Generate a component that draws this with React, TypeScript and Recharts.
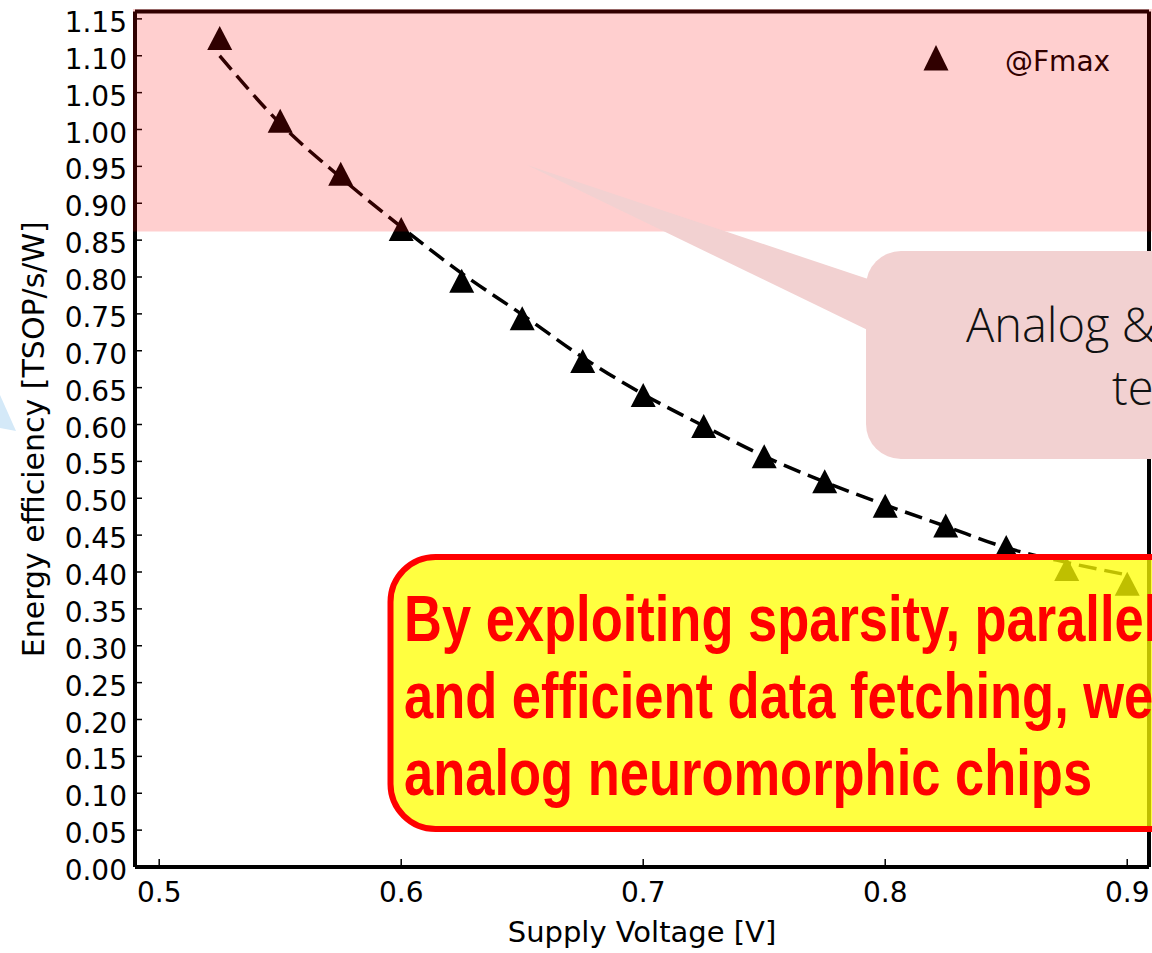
import React from "react"
import { ComposedChart, Line, XAxis, YAxis, Legend } from "recharts"

const voltage = [0.525, 0.55, 0.575, 0.6, 0.625, 0.65, 0.675, 0.7, 0.725, 0.75, 0.775, 0.8, 0.825, 0.85, 0.875, 0.9]
const efficiency = [1.124, 1.012, 0.94, 0.865, 0.795, 0.744, 0.686, 0.64, 0.598, 0.557, 0.523, 0.49, 0.463, 0.434, 0.404, 0.384]
// dashed trend line
const fitEfficiency = [1.1, 1.008, 0.935, 0.868, 0.805, 0.749, 0.691, 0.641, 0.598, 0.557, 0.522, 0.491, 0.462, 0.433, 0.413, 0.396]

const xTicks = [0.5, 0.6, 0.7, 0.8, 0.9]
const yTicks = [0, 0.05, 0.1, 0.15, 0.2, 0.25, 0.3, 0.35, 0.4, 0.45, 0.5, 0.55, 0.6, 0.65, 0.7, 0.75, 0.8, 0.85, 0.9, 0.95, 1.0, 1.05, 1.1, 1.15]
const xDomain = [0.49, 0.909]
const yDomain = [0, 1.16]

const seriesName = "@Fmax"
const xLabel = "Supply Voltage [V]"
const yLabel = "Energy efficiency [TSOP/s/W]"
const calloutLines = ["Analog &", "te"]
const noteLines = [
  "By exploiting sparsity, parallel",
  "and efficient data fetching, we",
  "analog neuromorphic chips",
]

const data = voltage.map((v, i) => ({ v, eff: efficiency[i], fit: fitEfficiency[i] }))

const AXIS_FONT = "'DejaVu Sans', sans-serif"

function XTick({ x, y, payload }: any) {
  return (
    <text x={x} y={y} dy={20.5} textAnchor="middle" fontFamily={AXIS_FONT} fontSize={28} fill="#000">
      {Number(payload.value).toFixed(1)}
    </text>
  )
}

function YTick({ x, y, payload }: any) {
  return (
    <text x={x} y={y} dy={13} textAnchor="end" fontFamily={AXIS_FONT} fontSize={28} fill="#000">
      {Number(payload.value).toFixed(2)}
    </text>
  )
}

function triangle(props: any) {
  const { cx, cy, index } = props
  if (cx == null || cy == null) return <g key={index} />
  return (
    <polygon
      key={index}
      points={`${cx},${cy - 12} ${cx - 12.5},${cy + 12} ${cx + 12.5},${cy + 12}`}
      fill="#000"
    />
  )
}

function LegendBox(props: any) {
  const items = (props.payload || []).filter((p: any) => p.type !== "none")
  return (
    <div style={{ position: "relative", width: 220, height: 40 }}>
      {items.map((it: any) => (
        <React.Fragment key={it.value}>
          <svg width={26} height={26} style={{ position: "absolute", left: 0, top: 0 }}>
            <polygon points="13,0 0.5,25.5 25.5,25.5" fill="#000" />
          </svg>
          <span
            style={{
              position: "absolute",
              left: 82,
              top: 3,
              fontFamily: AXIS_FONT,
              fontSize: 28,
              lineHeight: "28px",
              color: "#000",
              whiteSpace: "nowrap",
            }}
          >
            {it.value}
          </span>
        </React.Fragment>
      ))}
    </div>
  )
}

export default function App() {
  return (
    <div
      style={{
        position: "absolute",
        left: 0,
        top: 0,
        width: 1152,
        height: 953,
        overflow: "hidden",
        background: "#fff",
      }}
    >
      <ComposedChart width={1152} height={953} data={data} margin={{ top: 11.5, right: 3, left: 0, bottom: 0 }}>
        <XAxis
          dataKey="v"
          type="number"
          domain={xDomain}
          ticks={xTicks}
          allowDataOverflow
          height={86}
          tickSize={-8}
          tickMargin={22}
          tick={<XTick />}
          axisLine={{ stroke: "#000", strokeWidth: 4 }}
          tickLine={{ stroke: "#000", strokeWidth: 1.5 }}
          label={{
            value: xLabel,
            position: "insideBottom",
            offset: 11,
            style: { fontFamily: AXIS_FONT, fontSize: 29, fill: "#000" },
          }}
        />
        <XAxis
          xAxisId="top"
          orientation="top"
          type="number"
          domain={xDomain}
          ticks={xTicks}
          allowDataOverflow
          mirror
          tick={false}
          tickSize={8}
          axisLine={{ stroke: "#000", strokeWidth: 4 }}
          tickLine={{ stroke: "#000", strokeWidth: 1.5 }}
        />
        <YAxis
          type="number"
          domain={yDomain}
          ticks={yTicks}
          allowDataOverflow
          width={135}
          tickSize={-7}
          tickMargin={15}
          tick={<YTick />}
          axisLine={{ stroke: "#000", strokeWidth: 4 }}
          tickLine={{ stroke: "#000", strokeWidth: 1.5 }}
          label={{
            value: yLabel,
            angle: -90,
            position: "insideLeft",
            offset: 33,
            style: { textAnchor: "middle", fontFamily: AXIS_FONT, fontSize: 30, fill: "#000" },
          }}
        />
        <YAxis
          yAxisId="right"
          orientation="right"
          type="number"
          domain={yDomain}
          ticks={yTicks}
          allowDataOverflow
          mirror
          tick={false}
          tickSize={6}
          axisLine={{ stroke: "#000", strokeWidth: 4 }}
          tickLine={{ stroke: "#000", strokeWidth: 1.5 }}
        />
        <Line
          dataKey="fit"
          type="monotone"
          stroke="#000"
          strokeWidth={3.5}
          strokeDasharray="18 8"
          dot={false}
          activeDot={false}
          legendType="none"
          isAnimationActive={false}
        />
        <Line
          dataKey="eff"
          name={seriesName}
          stroke="none"
          dot={triangle}
          activeDot={false}
          legendType="triangle"
          isAnimationActive={false}
        />
        <Legend
          layout="horizontal"
          verticalAlign="middle"
          align="center"
          content={<LegendBox />}
          wrapperStyle={{ left: 923, top: 45, width: 220, height: 40 }}
        />
      </ComposedChart>

      {/* slide annotations laid over the figure */}
      <svg width={1152} height={953} style={{ position: "absolute", left: 0, top: 0, pointerEvents: "none" }}>
        <rect x={133} y={9} width={1019} height={222.5} fill="#ff0000" fillOpacity={0.19} />
        <polygon points="0,395 16,431 0,428" fill="#d4e9f8" />
        <polygon points="527,165 880,283 880,336" fill="#f2d1d1" />
        <rect x={866} y={251} width={400} height={208} rx={35} fill="#f2d1d1" />
        <text fontFamily="'Open Sans', sans-serif" fontWeight={300} fontSize={47} fill="#111">
          <tspan x={966} y={342}>{calloutLines[0]}</tspan>
          <tspan x={1112} y={405}>{calloutLines[1]}</tspan>
        </text>
        <rect
          x={390.5}
          y={557}
          width={820}
          height={272}
          rx={45}
          fill="#ffff00"
          fillOpacity={0.75}
          stroke="#ff0000"
          strokeWidth={6}
        />
        <g transform="translate(404,0) scale(0.82,1)">
          <text fontFamily="'Liberation Sans', Arial, sans-serif" fontWeight={700} fontSize={64} fill="#ff0000">
            {noteLines.map((t, i) => (
              <tspan key={i} x={0} y={641 + i * 77}>
                {t}
              </tspan>
            ))}
          </text>
        </g>
      </svg>
    </div>
  )
}
